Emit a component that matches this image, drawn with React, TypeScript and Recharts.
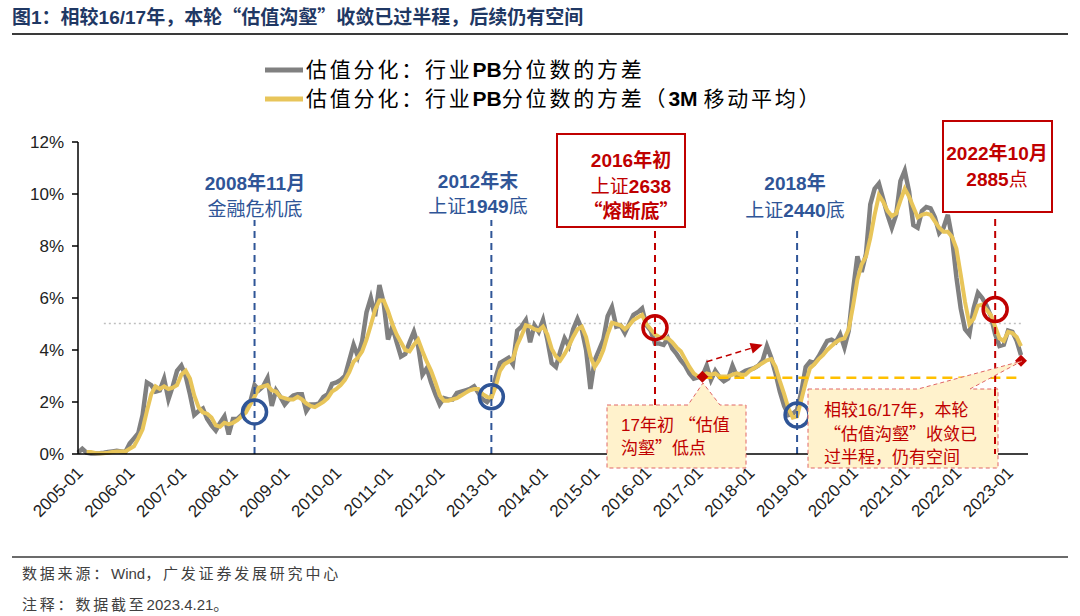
import React from "react";
import { LineChart, Line, XAxis, YAxis, ReferenceLine, ReferenceDot } from "recharts";

const FONT_LATIN = '"Liberation Sans", Arial, sans-serif';
const FONT_CJK = '"Noto Sans CJK SC", "Noto Sans CJK JP", sans-serif';

const GRAY = "#808080";
const GOLD = "#E8C55A";
const BLUE = "#2F5597";
const RED = "#C00000";

// monthly categories 2005-01 .. 2023-04
const startYear = 2005;
const monthCount = 220;
const months = Array.from(
  { length: monthCount },
  (_, i) => `${startYear + Math.floor(i / 12)}-${String((i % 12) + 1).padStart(2, "0")}`
);
const yearTicks = [
  "2005-01", "2006-01", "2007-01", "2008-01", "2009-01", "2010-01", "2011-01",
  "2012-01", "2013-01", "2014-01", "2015-01", "2016-01", "2017-01", "2018-01",
  "2019-01", "2020-01", "2021-01", "2022-01", "2023-01",
];
const yTicks = [0, 2, 4, 6, 8, 10, 12];

// 估值分化：行业PB分位数的方差 (%)
const pbVariance = [
  0.05, 0.2, 0.05, 0.02, 0.02, 0.03, 0.05, 0.08, 0.1, 0.12, 0.1, 0.08, // 2005
  0.4, 0.6, 0.8, 1.5, 2.75, 2.65, 2.4, 2.45, 2.9, 2.1, 2.6, 3.2, // 2006
  3.4, 3.0, 2.3, 1.5, 1.65, 1.75, 1.35, 1.1, 0.9, 1.2, 1.45, 0.75, // 2007
  1.35, 1.35, 1.5, 1.7, 2.0, 2.65, 2.45, 2.6, 2.92, 1.85, 2.45, 2.2, // 2008
  1.9, 2.1, 2.25, 2.3, 2.3, 1.65, 1.9, 1.9, 1.95, 2.2, 2.3, 2.7, // 2009
  2.75, 2.85, 3.0, 3.6, 4.2, 3.75, 4.35, 5.45, 6.0, 5.3, 6.5, 5.8, // 2010
  4.4, 4.9, 4.3, 3.75, 3.85, 4.3, 4.7, 4.15, 3.05, 3.3, 2.75, 2.3, // 2011
  1.9, 2.15, 2.1, 2.1, 2.35, 2.4, 2.45, 2.5, 2.6, 2.35, 2.1, 2.0, // 2012
  2.2, 2.95, 3.5, 3.6, 3.7, 3.45, 4.75, 4.9, 5.15, 4.3, 4.95, 4.7, // 2013
  5.15, 4.4, 3.5, 3.35, 3.95, 4.45, 4.15, 4.8, 5.2, 4.8, 4.0, 2.5, // 2014
  3.6, 4.0, 4.4, 5.3, 5.65, 4.9, 4.95, 4.65, 5.0, 5.35, 5.45, 5.6, // 2015
  4.95, 4.75, 4.25, 4.25, 4.2, 4.45, 4.05, 3.85, 3.6, 3.4, 3.1, 2.9, // 2016
  2.95, 3.0, 3.4, 2.85, 3.2, 2.95, 2.8, 2.9, 3.4, 3.0, 3.1, 3.2, // 2017
  3.25, 3.3, 3.4, 3.6, 4.15, 3.7, 3.1, 2.4, 1.85, 1.5, 1.55, 1.7, // 2018
  2.4, 3.35, 3.55, 3.5, 3.75, 4.05, 4.35, 4.4, 4.3, 4.6, 4.1, 4.75, // 2019
  6.3, 7.6, 7.0, 7.7, 9.6, 10.2, 10.4, 9.8, 9.2, 8.7, 9.2, 10.5, // 2020
  10.9, 10.1, 8.8, 8.7, 9.35, 9.5, 9.45, 9.1, 8.5, 8.7, 9.2, 8.3, // 2021
  6.8, 5.6, 4.8, 4.6, 5.6, 6.2, 6.0, 5.7, 5.3, 4.6, 4.15, 4.2, // 2022
  4.75, 4.7, 4.35, 3.8, // 2023
];

// 3M 移动平均 (%)
const pbVariance3m = [
  null, null, 0.08, 0.08, 0.04, 0.03, 0.03, 0.05, 0.08, 0.1, 0.1, 0.1, // 2005
  0.2, 0.3, 0.6, 0.95, 1.65, 2.3, 2.6, 2.5, 2.6, 2.5, 2.55, 2.65, // 2006
  3.05, 3.2, 2.9, 2.25, 1.8, 1.6, 1.55, 1.4, 1.1, 1.05, 1.2, 1.15, // 2007
  1.2, 1.3, 1.45, 1.6, 1.9, 2.2, 2.55, 2.6, 2.65, 2.45, 2.4, 2.2, // 2008
  2.15, 2.1, 2.1, 2.2, 2.1, 1.95, 1.85, 1.8, 1.9, 2.0, 2.15, 2.4, // 2009
  2.5, 2.65, 2.85, 3.15, 3.55, 3.7, 3.95, 4.4, 4.95, 5.55, 5.9, 5.9, // 2010
  5.5, 5.0, 4.6, 4.3, 4.0, 3.95, 4.2, 4.4, 3.95, 3.55, 3.2, 2.75, // 2011
  2.25, 2.05, 2.05, 2.1, 2.15, 2.25, 2.35, 2.45, 2.5, 2.5, 2.3, 2.2, // 2012
  2.15, 2.6, 3.2, 3.45, 3.55, 3.65, 4.2, 4.55, 4.95, 4.9, 4.8, 4.75, // 2013
  4.9, 4.6, 4.05, 3.75, 3.6, 3.85, 4.15, 4.5, 4.8, 4.9, 4.5, 3.75, // 2014
  3.35, 3.6, 4.0, 4.6, 5.05, 5.0, 4.95, 4.8, 4.95, 5.15, 5.25, 5.35, // 2015
  5.0, 4.8, 4.6, 4.5, 4.45, 4.45, 4.3, 4.1, 3.95, 3.65, 3.35, 3.1, // 2016
  2.98, 3.0, 3.1, 3.05, 3.1, 2.98, 2.98, 2.98, 3.05, 3.1, 3.05, 3.05, // 2017
  3.2, 3.3, 3.4, 3.5, 3.6, 3.65, 3.35, 2.8, 2.3, 1.75, 1.4, 1.45, // 2018
  2.1, 2.75, 3.3, 3.45, 3.65, 3.8, 4.0, 4.15, 4.3, 4.4, 4.45, 4.8, // 2019
  5.7, 6.7, 7.3, 7.6, 8.3, 9.2, 9.95, 9.7, 9.35, 9.15, 9.25, 9.75, // 2020
  10.2, 9.9, 9.5, 9.1, 9.2, 9.25, 9.2, 8.95, 8.7, 8.55, 8.55, 8.35, // 2021
  7.9, 6.9, 5.85, 5.0, 5.2, 5.7, 5.75, 5.55, 5.35, 4.9, 4.45, 4.35, // 2022
  4.7, 4.65, 4.5, 4.15, // 2023
];

const data = months.map((month, i) => ({
  month,
  pb: pbVariance[i],
  pb3m: pbVariance3m[i],
}));

// split text into latin / CJK runs so digits use Arial-like font, Chinese uses Noto CJK
function mixed(text: string, latinWeight: any = "normal", cjkWeight: any = "normal", cjkSpacing = 0) {
  const parts: { s: string; latin: boolean }[] = [];
  for (const ch of text) {
    const latin = ch.charCodeAt(0) < 0x2000;
    const last = parts[parts.length - 1];
    if (last && last.latin === latin) last.s += ch;
    else parts.push({ s: ch, latin });
  }
  return parts.map((p, k) => (
    <tspan
      key={k}
      fontFamily={p.latin ? FONT_LATIN : FONT_CJK}
      fontWeight={p.latin ? latinWeight : cjkWeight}
      letterSpacing={p.latin ? 0 : cjkSpacing}
    >
      {p.s}
    </tspan>
  ));
}

function XTick(props: any) {
  const { x, y, payload } = props;
  const ax = x + 6;
  const ay = y + 12;
  return (
    <text
      x={ax}
      y={ay}
      transform={`rotate(-45 ${ax} ${ay})`}
      textAnchor="end"
      fontSize={17}
      fill="#222"
      fontFamily={FONT_LATIN}
    >
      {payload.value}
    </text>
  );
}

function Diamond(props: any) {
  const { cx, cy } = props;
  const s = 6;
  return <polygon points={`${cx},${cy - s} ${cx + s},${cy} ${cx},${cy + s} ${cx - s},${cy}`} fill={RED} />;
}

function DashedArrow(props: any) {
  const { x1, y1, x2, y2 } = props;
  const ang = (Math.atan2(y2 - y1, x2 - x1) * 180) / Math.PI;
  return (
    <g>
      <line x1={x1} y1={y1} x2={x2} y2={y2} stroke={RED} strokeWidth={1.5} strokeDasharray="6 4" />
      <polygon points="0,0 -12,-5.5 -12,5.5" fill={RED} transform={`translate(${x2},${y2}) rotate(${ang})`} />
    </g>
  );
}

const circle = (color: string) => ({ r: 12, fill: "none", stroke: color, strokeWidth: 3.5 });

export default function App() {
  return (
    <div style={{ position: "absolute", left: 0, top: 0, width: 1080, height: 616, background: "#fff" }}>
      <div style={{ position: "absolute", left: 0, top: 0 }}>
        <LineChart width={1080} height={540} data={data} margin={{ top: 142, right: 52, bottom: 26, left: 28 }}>
          <XAxis
            dataKey="month"
            ticks={yearTicks}
            interval={0}
            tick={<XTick />}
            tickLine={false}
            axisLine={{ stroke: "#000", strokeWidth: 1.5 }}
            padding={{ left: 0, right: 7 }}
            height={60}
          />
          <YAxis
            domain={[0, 12]}
            ticks={yTicks}
            tickFormatter={(v) => `${v}%`}
            tickSize={6}
            tickMargin={8}
            width={50}
            axisLine={{ stroke: "#000", strokeWidth: 1.5 }}
            tickLine={{ stroke: "#000", strokeWidth: 1.5 }}
            tick={{ fontSize: 17, fill: "#222", fontFamily: FONT_LATIN }}
          />
          <ReferenceLine
            segment={[{ x: "2005-07", y: 5.02 }, { x: "2023-04", y: 5.02 }]}
            stroke="#BFBFBF"
            strokeWidth={1.5}
            strokeDasharray="2 3"
          />
          <Line dataKey="pb" stroke={GRAY} strokeWidth={4.5} dot={false} isAnimationActive={false} />
          <Line dataKey="pb3m" stroke={GOLD} strokeWidth={4} dot={false} isAnimationActive={false} />

          <ReferenceLine
            segment={[{ x: "2017-02", y: 2.93 }, { x: "2023-04", y: 2.93 }]}
            stroke="#FFC000"
            strokeWidth={2.5}
            strokeDasharray="10 6"
          />
          <ReferenceLine segment={[{ x: "2008-06", y: 0 }, { x: "2008-06", y: 9.0 }]} stroke={BLUE} strokeWidth={2} strokeDasharray="7 5" />
          <ReferenceLine segment={[{ x: "2013-01", y: 0 }, { x: "2013-01", y: 9.0 }]} stroke={BLUE} strokeWidth={2} strokeDasharray="7 5" />
          <ReferenceLine segment={[{ x: "2016-03", y: 0 }, { x: "2016-03", y: 8.7 }]} stroke={RED} strokeWidth={2} strokeDasharray="7 5" />
          <ReferenceLine segment={[{ x: "2018-12", y: 0 }, { x: "2018-12", y: 8.75 }]} stroke={BLUE} strokeWidth={2} strokeDasharray="7 5" />
          <ReferenceLine segment={[{ x: "2022-10", y: 0 }, { x: "2022-10", y: 9.1 }]} stroke={RED} strokeWidth={2} strokeDasharray="7 5" />
          <ReferenceLine segment={[{ x: "2017-03", y: 3.55 }, { x: "2018-04", y: 4.2 }]} shape={<DashedArrow />} />

          <ReferenceDot x="2008-06" y={1.62} {...circle(BLUE)} />
          <ReferenceDot x="2013-01" y={2.2} {...circle(BLUE)} />
          <ReferenceDot x="2016-03" y={4.86} {...circle(RED)} />
          <ReferenceDot x="2018-12" y={1.5} {...circle(BLUE)} />
          <ReferenceDot x="2022-10" y={5.56} {...circle(RED)} />
          <ReferenceDot x="2017-02" y={2.97} shape={<Diamond />} />
          <ReferenceDot x="2023-04" y={3.59} shape={<Diamond />} />
        </LineChart>
      </div>

      <svg width={1080} height={616} style={{ position: "absolute", left: 0, top: 0, pointerEvents: "none" }}>
        {/* title */}
        <text x={12} y={24} fontSize={19} fill="#1F3864">
          {mixed("图1：相较16/17年，本轮“估值沟壑”收敛已过半程，后续仍有空间", "bold", "bold")}
        </text>
        <line x1={12} x2={1068} y1={34} y2={34} stroke="#3A3A3A" strokeWidth={2} />

        {/* legend */}
        <line x1={265} x2={303} y1={70} y2={70} stroke={GRAY} strokeWidth={5} />
        <text x={306} y={77} fontSize={21} fill="#000">
          {mixed("估值分化：行业PB分位数的方差", "bold", "normal", 2.8)}
        </text>
        <line x1={265} x2={303} y1={99} y2={99} stroke={GOLD} strokeWidth={5} />
        <text x={306} y={106} fontSize={21} fill="#000">
          {mixed("估值分化：行业PB分位数的方差（3M 移动平均）", "bold", "normal", 2.8)}
        </text>

        {/* blue bottoms */}
        <text x={255} y={190} fontSize={19} fill={BLUE} textAnchor="middle">{mixed("2008年11月", "bold", "bold")}</text>
        <text x={255} y={216} fontSize={19} fill={BLUE} textAnchor="middle">{mixed("金融危机底")}</text>
        <text x={478} y={188} fontSize={19} fill={BLUE} textAnchor="middle">{mixed("2012年末", "bold", "bold")}</text>
        <text x={478} y={213} fontSize={19} fill={BLUE} textAnchor="middle">{mixed("上证1949底", "bold")}</text>
        <text x={795} y={190} fontSize={19} fill={BLUE} textAnchor="middle">{mixed("2018年", "bold", "bold")}</text>
        <text x={795} y={217} fontSize={19} fill={BLUE} textAnchor="middle">{mixed("上证2440底", "bold")}</text>

        {/* red boxes */}
        <rect x={557} y={134} width={128} height={93} fill="#fff" stroke={RED} strokeWidth={2} />
        <text x={631} y={167} fontSize={19} fill={RED} textAnchor="middle">{mixed("2016年初", "bold", "bold")}</text>
        <text x={631} y={193} fontSize={19} fill={RED} textAnchor="middle">{mixed("上证2638", "bold")}</text>
        <text x={631} y={218} fontSize={19} fill={RED} textAnchor="middle">{mixed("“熔断底”", "bold", "bold")}</text>

        <rect x={943} y={121} width={109} height={91} fill="#fff" stroke={RED} strokeWidth={2} />
        <text x={997} y={160} fontSize={19} fill={RED} textAnchor="middle">{mixed("2022年10月", "bold", "bold")}</text>
        <text x={997} y={186} fontSize={19} fill={RED} textAnchor="middle">{mixed("2885点", "bold")}</text>

        {/* callout 1 */}
        <path
          d="M607,405 L688,405 L703,383 L720,405 L746,405 L746,468 L607,468 Z"
          fill="#FFF2CC"
          stroke="#E06666"
          strokeWidth={1}
          strokeDasharray="4 3"
        />
        <text x={621} y={431} fontSize={17} fill={RED}>{mixed("17年初 “估值")}</text>
        <text x={621} y={454} fontSize={17} fill={RED}>{mixed("沟壑”低点")}</text>

        {/* callout 2 */}
        <path
          d="M808,389 L918,389 L1022,361 L970,389 L998,389 L998,468 L808,468 Z"
          fill="#FFF2CC"
          stroke="#E06666"
          strokeWidth={1}
          strokeDasharray="4 3"
        />
        <line x1={995} x2={995} y1={389} y2={454} stroke={RED} strokeWidth={2} strokeDasharray="7 5" />
        <text x={824} y={416} fontSize={17} fill={RED}>{mixed("相较16/17年，本轮")}</text>
        <text x={824} y={440} fontSize={17} fill={RED}>{mixed("“估值沟壑”收敛已")}</text>
        <text x={824} y={463} fontSize={17} fill={RED}>{mixed("过半程，仍有空间")}</text>

        {/* footer */}
        <line x1={12} x2={1068} y1={557} y2={557} stroke="#3A3A3A" strokeWidth={1.5} />
        <text x={22} y={579} fontSize={15} fill="#404040">{mixed("数据来源：Wind，广发证券发展研究中心", "normal", "normal", 2.8)}</text>
        <text x={22} y={610} fontSize={15} fill="#404040">{mixed("注释：数据截至2023.4.21。", "normal", "normal", 2.8)}</text>
      </svg>
    </div>
  );
}
